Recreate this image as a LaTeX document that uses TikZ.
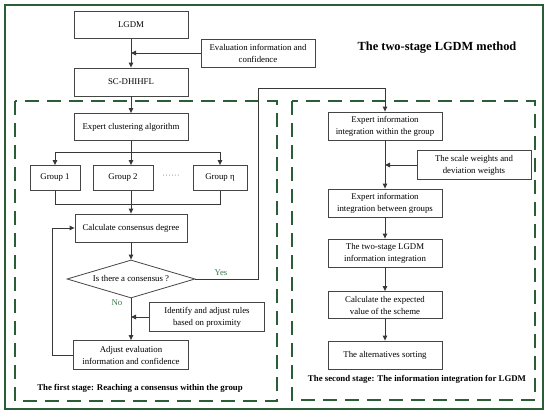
\documentclass[tikz,border=0pt]{standalone}
\usepackage{fontspec}
\setmainfont{Liberation Serif}
\usetikzlibrary{arrows.meta,shapes.geometric}
\definecolor{frgreen}{HTML}{2A5E38}
\definecolor{lblgreen}{HTML}{3C7A4C}
\definecolor{boxline}{HTML}{454545}
\definecolor{arrline}{HTML}{383838}
\tikzset{
  box/.style={draw=boxline, line width=0.8pt, align=center, inner sep=1pt,
    font=\fontsize{8.8}{12}\selectfont, minimum width=114pt, minimum height=28pt},
  arr/.style={draw=arrline, line width=1pt, -{Triangle[length=5pt,width=4.5pt]}},
  ln/.style={draw=arrline, line width=1pt},
  stagebox/.style={draw=frgreen, line width=1.3pt, dash pattern=on 14pt off 8pt},
  lbl/.style={font=\fontsize{8.8}{11}\selectfont, text=lblgreen},
  stagelbl/.style={font=\bfseries\fontsize{8.8}{11}\selectfont}
}
\begin{document}
\begin{tikzpicture}[x=1pt,y=-1pt]
\useasboundingbox (0,0) rectangle (550,415);
% frames
\draw[frgreen, line width=1.3pt] (5,5) rectangle (543,409);
\draw[stagebox] (15,101) rectangle (277,401);
\draw[stagebox] (292,101) rectangle (535,400);
% title
\node[font=\bfseries\fontsize{12.4}{14}\selectfont] (title) at (437,48) {The two-stage LGDM method};
% left column
\node[box, minimum height=27pt] (lgdm) at (131,25) {LGDM};
\node[box] (eval) at (258,53) {Evaluation information and\\confidence};
\node[box] (sc) at (131,82) {SC-DHIHFL};
\node[box, minimum height=27pt] (clus) at (131,127) {Expert clustering algorithm};
\node[box, minimum width=50pt, minimum height=25pt] (g1) at (55,178) {Group 1};
\node[box, minimum width=60pt, minimum height=25pt] (g2) at (123,178) {Group 2};
\node[box, minimum width=54pt, minimum height=25pt] (geta) at (220,178) {Group η};
\node[font=\fontsize{8.8}{11}\selectfont, text=gray] (dots) at (171,177) {······};
\node[box, minimum width=112pt] (calc) at (131,228) {Calculate consensus degree};
\node[draw=boxline, line width=0.8pt, diamond, aspect=3.37, minimum width=128pt, minimum height=38pt,
  inner sep=0pt, font=\fontsize{8.8}{11}\selectfont] (dia) at (131,279) {Is there a consensus ?};
\node[box, minimum width=115pt, minimum height=29pt] (idf) at (207,317) {Identify and adjust rules\\based on proximity};
\node[box, minimum width=115pt, minimum height=29pt] (adj) at (131,355) {Adjust evaluation\\information and confidence};
\node[lbl] (yes) at (221,273) {Yes};
\node[lbl] (no) at (117,303) {No};
\node[stagelbl] (st1) at (140,388) {The first stage: Reaching a consensus within the group};
% right column
\node[box] (w1) at (385,126) {Expert information\\integration within the group};
\node[box, minimum height=29pt] (sw) at (474,165) {The scale weights and\\deviation weights};
\node[box] (w2) at (385,203) {Expert information\\integration between groups};
\node[box] (ts) at (385,253) {The two-stage LGDM\\information integration};
\node[box, minimum height=27pt] (ev) at (385,305) {Calculate the expected\\value of the scheme};
\node[box] (alt) at (385,355) {The alternatives sorting};
\node[stagelbl] (st2) at (417,379) {The second stage: The information integration for LGDM};
% coordinates
\coordinate (br) at (131,152);
\coordinate (jn) at (131,204);
\coordinate (fb) at (52,355);
\coordinate (ycor) at (258,88);
% connectors left
\draw[arr] (lgdm) -- (sc);
\draw[arr] (eval.west) -- (eval.west -| lgdm.south);
\draw[arr] (sc) -- (clus);
\draw[arr] (clus.south) -- (clus.south |- g2.north);
\draw[ln] (br -| g1.north) -- (br -| geta.north);
\draw[arr] (br -| g1.north) -- (g1.north);
\draw[arr] (br -| geta.north) -- (geta.north);
\draw[ln] (g1.south) -- (g1.south |- jn) -- (geta.south |- jn) -- (geta.south);
\draw[arr] (g2.south -| clus.south) -- (calc.north);
\draw[arr] (calc) -- (dia);
\draw[arr] (dia.south) -- (adj.north);
\draw[arr] (idf.west) -- (idf.west -| dia.south);
\draw[arr] (adj.west) -- (fb) |- (calc.west);
\draw[arr] (dia.east) -| (ycor) -| (w1.north);
% connectors right
\draw[arr] (w1) -- (w2);
\draw[arr] (sw.west) -- (sw.west -| w1.south);
\draw[arr] (w2) -- (ts);
\draw[arr] (ts) -- (ev);
\draw[arr] (ev) -- (alt);
\end{tikzpicture}
\end{document}
